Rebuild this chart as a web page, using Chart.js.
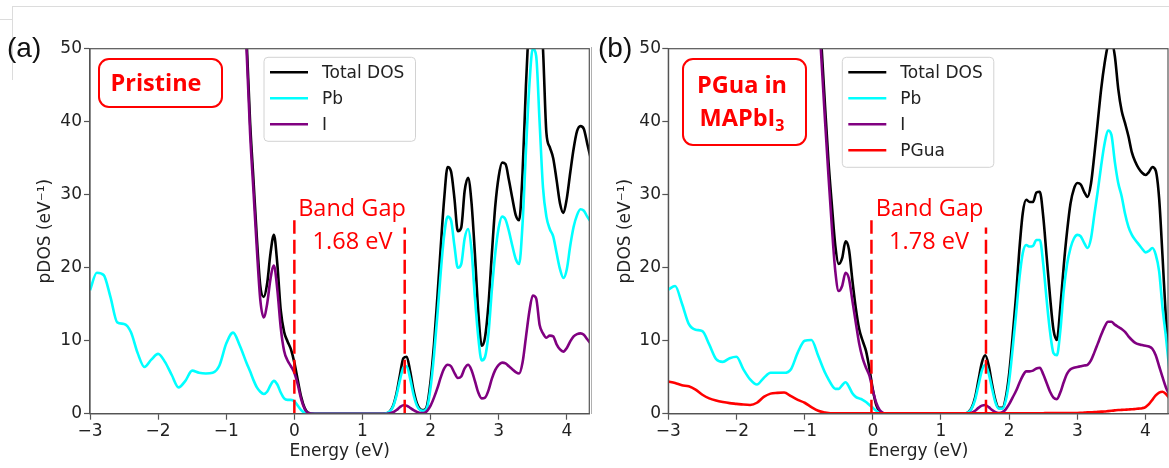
<!DOCTYPE html>
<html>
<head>
<meta charset="utf-8">
<script src="https://cdn.jsdelivr.net/npm/chart.js@4.4.1/dist/chart.umd.min.js"></script>
<style>
  html, body { margin: 0; padding: 0; background: #fff; }
  body { position: relative; width: 1169px; height: 468px; overflow: hidden; }
  canvas { position: absolute; top: 0; }
  #chartA { left: 0; }
  #chartB { left: 590px; }
  .note { position: absolute; font-family: "Open Sans", sans-serif; font-size: 23.5px; line-height: 1;
          color: #ff0000; white-space: nowrap; text-align: center; width: 200px; }
  .bold { font-weight: bold; }
  .box { position: absolute; border: 2px solid #ff0000; border-radius: 11px; box-sizing: border-box; }
  .tag { position: absolute; font-family: "Liberation Sans", Arial, sans-serif; font-size: 28px; line-height: 1; color: #111; }
  .edge { position: absolute; background: #dcdcdc; }
  sub { font-size: 16px; vertical-align: -5px; line-height: 0; }
</style>
</head>
<body>
<div class="edge" style="left:12px; top:6px; width:1157px; height:1px;"></div>
<div class="edge" style="left:0; top:19px; width:12px; height:1px;"></div>
<div class="edge" style="left:12px; top:6px; width:1px; height:74px;"></div>
<div class="edge" style="left:591px; top:47px; width:1px; height:367px; background:#b0b0b0;"></div>

<canvas id="chartA" width="592" height="468"></canvas>
<canvas id="chartB" width="579" height="468"></canvas>

<div class="tag" style="left:7px; top:34px;">(a)</div>
<div class="tag" style="left:598px; top:34px;">(b)</div>

<div class="box" style="left:98px; top:58px; width:125px; height:50px;"></div>
<div class="note bold" style="left:56px; top:70.8px;">Pristine</div>
<div class="note" style="left:252px; top:195.8px;">Band Gap</div>
<div class="note" style="left:252.5px; top:229.1px;">1.68 eV</div>

<div class="box" style="left:682px; top:58px; width:125px; height:88px;"></div>
<div class="note bold" style="left:642px; top:73.1px;">PGua in</div>
<div class="note bold" style="left:642px; top:106.4px;">MAPbI<sub>3</sub></div>
<div class="note" style="left:829.5px; top:195.8px;">Band Gap</div>
<div class="note" style="left:829px; top:229.1px;">1.78 eV</div>

<script>
// energy grid (eV), shared by both panels
const energy = [-3.0, -2.9, -2.8, -2.7, -2.6, -2.5, -2.4, -2.3, -2.2, -2.1, -2.0, -1.9, -1.8, -1.7, -1.6, -1.5, -1.4, -1.3, -1.2, -1.1, -1.0, -0.9, -0.8, -0.7,
  -0.65, -0.6, -0.55, -0.5, -0.45, -0.4, -0.35, -0.3, -0.25, -0.2, -0.15, -0.1, -0.05, 0, 0.05, 0.1, 0.15, 0.2,
  0.3, 0.4, 0.5, 0.6, 0.7, 0.8, 0.9, 1.0, 1.1, 1.2, 1.3,
  1.35, 1.4, 1.45, 1.5, 1.55, 1.6, 1.65, 1.7, 1.75, 1.8, 1.85, 1.9, 1.95, 2.0, 2.05, 2.1, 2.15, 2.2, 2.25, 2.3,
  2.35, 2.4, 2.45, 2.5, 2.55, 2.6, 2.65, 2.7, 2.75, 2.8, 2.85, 2.9, 2.95, 3.0, 3.05, 3.1, 3.15, 3.2, 3.25, 3.3,
  3.35, 3.4, 3.45, 3.5, 3.55, 3.6, 3.65, 3.7, 3.75, 3.8, 3.85, 3.9, 3.95, 4.0, 4.05, 4.1, 4.15, 4.2, 4.25, 4.3, 4.35];

// (a) Pristine
const totalA = [null, null, null, null, null, null, null, null, null, null, null, null, null, null, null, null, null, null, null, null, null, null, 68, 51,
  40, 32, 24, 17.5, 16.0, 17.8, 22, 24.5, 20.5, 14.2, 11.2, 9.9, 8.8, 7.0, 4.6, 2.3, 0.8, 0.15,
  0, 0, 0, 0, 0, 0, 0, 0, 0, 0, 0,
  0.05, 0.3, 1.1, 2.8, 5.3, 7.6, 7.8, 5.8, 3.2, 1.4, 0.6, 0.5, 1.2, 4.5, 9.5, 16, 23, 29.5, 33.8, 33.2,
  29.5, 25, 25.5, 30.5, 32.3, 29, 22, 14, 9.3, 10.5, 15, 22, 28.5, 32.5, 34.4, 34.2, 32, 29.5, 27.2, 26.5,
  33, 45, 55, 62, 62, 57, 50, 38.5, 36.5, 35, 32, 28.8, 27.5, 29.5, 33, 36.3, 38.7, 39.4, 39, 37, 35];
const pbA = [16.9, 19.3, 19.0, 16.0, 12.5, 12.3, 11.2, 8.3, 6.4, 7.4, 8.2, 7.1, 5.3, 3.6, 4.5, 5.9, 5.6, 5.5, 5.6, 6.6, 9.6, 11.1, 9.3, 6.9,
  5.8, 4.6, 3.6, 3.0, 2.7, 3.0, 3.9, 4.5, 4.0, 2.9, 2.1, 1.9, 1.9, 1.7, 1.1, 0.5, 0.15, 0.05,
  0, 0, 0, 0, 0, 0, 0, 0, 0, 0, 0,
  0.05, 0.3, 1.0, 2.5, 4.6, 6.3, 6.5, 4.8, 2.6, 1.1, 0.5, 0.4, 0.9, 3.6, 8, 13.5, 19.5, 24.5, 27, 26.5,
  23, 20, 20.5, 24, 25.3, 22.5, 16, 10.5, 7.3, 7.8, 11, 17, 22, 25.5, 27, 26.6, 25, 23, 21.2, 20.5,
  26, 36, 45, 50, 49, 40, 31, 27, 25.3, 24.3, 22, 19.8, 18.6, 19.8, 23, 25.6, 27.2, 28, 27.8, 27, 26.3];
const iA = [null, null, null, null, null, null, null, null, null, null, null, null, null, null, null, null, null, null, null, null, null, null, 67, 49.5,
  38.5, 30.5, 22.5, 15.6, 13.2, 15.0, 18.5, 20.3, 17, 11.8, 8.6, 7.3, 6.5, 5.6, 4.0, 2.0, 0.7, 0.1,
  0, 0, 0, 0, 0, 0, 0, 0, 0, 0, 0,
  0, 0.05, 0.2, 0.5, 0.9, 1.15, 1.1, 0.8, 0.5, 0.25, 0.1, 0.1, 0.4, 1.1, 2.2, 3.5, 5.0, 6.2, 6.7, 6.5,
  5.6, 4.9, 5.1, 6.2, 6.7, 6.0, 4.5, 2.9, 2.1, 2.2, 3.2, 4.8, 6.0, 6.7, 7.0, 6.9, 6.5, 6.1, 5.7, 5.5,
  7.0, 10.5, 14, 16.2, 15.8, 12.2, 11.0, 10.4, 10.7, 10.6, 9.5, 8.8, 8.5, 9.0, 9.9, 10.6, 10.9, 11.0, 10.8, 10.2, 9.6];

// (b) PGua in MAPbI3
const totalB = [null, null, null, null, null, null, null, null, null, null, null, null, null, null, null, null, null, null, null, null, null, null, 58, 42,
  34.5, 28.5, 23, 20.5, 21.3, 23.6, 22.5, 18.3, 14.5, 11.6, 10, 8.6, 6.2, 3.3, 1.2, 0.3, 0.05, 0,
  0, 0, 0, 0, 0, 0, 0, 0, 0, 0, 0,
  0.05, 0.2, 0.8, 2.2, 4.6, 7.0, 8.0, 6.6, 4.0, 1.8, 0.8, 0.8, 2.2, 5.5, 10.5, 16, 22.5, 27.5, 29.3, 29.0,
  29.0, 30.3, 30.4, 27, 21.5, 16, 11.5, 10.1, 14.5, 20.2, 25, 28.8, 30.8, 31.6, 31.4, 30.4, 29.7, 31.5, 35.5, 40,
  44.5, 48, 50.5, 51, 49, 44.5, 41.5, 39.8, 38, 35.8, 34.5, 33.6, 33.0, 32.7, 33.1, 33.8, 33.3, 29.5, 21.5, 13, 7];
const pbB = [17.0, 17.5, 15.1, 12.3, 11.5, 11.3, 9.5, 7.5, 7.1, 7.6, 7.8, 6.1, 4.7, 4.0, 4.9, 5.6, 5.6, 5.6, 6.1, 8.4, 10.0, 10.1, 7.9, 5.6,
  4.7, 3.9, 3.4, 3.4, 3.9, 4.3, 3.7, 2.8, 2.3, 2.1, 1.9, 1.6, 1.2, 0.8, 0.4, 0.15, 0.05, 0,
  0, 0, 0, 0, 0, 0, 0, 0, 0, 0, 0,
  0.05, 0.2, 0.7, 1.9, 3.9, 5.9, 6.7, 5.5, 3.4, 1.5, 0.7, 0.7, 1.8, 4.5, 8.8, 13.5, 18.5, 22, 23.1, 22.9,
  23.0, 23.8, 23.8, 20.5, 15.6, 11.2, 8.3, 8.0, 11.3, 16.8, 20.5, 22.7, 24, 24.5, 24.3, 23.4, 22.7, 24, 27.3, 30.5,
  34, 37, 38.8, 38.2, 34.5, 31.6, 29.8, 27.4, 25.6, 24.5, 23.8, 23.2, 22.6, 22.1, 22.3, 22.7, 21.8, 19.5, 14.5, 10.5, 6];
const iB = [null, null, null, null, null, null, null, null, null, null, null, null, null, null, null, null, null, null, null, null, null, null, 56, 40,
  32.5, 25.5, 19.5, 16.8, 17.5, 19.3, 18.5, 15.5, 12.5, 9.6, 7.6, 6.3, 5.2, 3.2, 1.5, 0.5, 0.1, 0,
  0, 0, 0, 0, 0, 0, 0, 0, 0, 0, 0,
  0, 0.05, 0.15, 0.4, 0.8, 1.1, 1.2, 0.9, 0.5, 0.2, 0.1, 0.2, 0.6, 1.3, 2.2, 3.1, 4.2, 5.2, 5.8, 5.8,
  5.9, 6.2, 6.3, 5.4, 4.2, 3.0, 2.2, 2.0, 2.9, 4.3, 5.5, 6.1, 6.3, 6.4, 6.5, 6.6, 6.7, 7.3, 8.4, 9.6,
  10.8, 11.9, 12.6, 12.6, 12.2, 11.9, 11.6, 11.2, 10.6, 10.1, 9.7, 9.5, 9.4, 9.3, 9.2, 8.9, 8.0, 6.5, 5.0, 3.6, 2.6];
const pguaB = [4.4, 4.2, 3.9, 3.75, 3.3, 2.6, 2.1, 1.8, 1.6, 1.45, 1.35, 1.25, 1.2, 1.5, 2.3, 2.75, 2.85, 2.9, 2.4, 1.9, 1.5, 0.9, 0.4, 0.15,
  0.08, 0.05, 0.05, 0.05, 0.05, 0.05, 0.05, 0.05, 0.05, 0.05, 0.05, 0.05, 0.05, 0.05, 0.05, 0.05, 0.05, 0.05,
  0.05, 0.05, 0.05, 0.05, 0.05, 0.05, 0.05, 0.05, 0.05, 0.05, 0.05,
  0.05, 0.05, 0.05, 0.05, 0.05, 0.05, 0.05, 0.05, 0.05, 0.05, 0.05, 0.05, 0.05, 0.05, 0.05, 0.05, 0.05, 0.05, 0.05, 0.05,
  0.05, 0.05, 0.05, 0.05, 0.1, 0.1, 0.1, 0.1, 0.1, 0.1, 0.1, 0.1, 0.1, 0.1, 0.12, 0.15, 0.18, 0.2, 0.22, 0.25,
  0.28, 0.3, 0.35, 0.4, 0.45, 0.5, 0.52, 0.55, 0.58, 0.6, 0.65, 0.7, 0.75, 0.9, 1.3, 1.9, 2.5, 2.9, 3.0, 2.7, 2.1];

// band gap markers: band edges (eV) and height of the dashed lines
const gapA = [0, 1.62];
const gapB = [-0.02, 1.66];
const gapTop = [26.5, 25.5];

const xTicks = [-3, -2, -1, 0, 1, 2, 3, 4];
const yTicks = [0, 10, 20, 30, 40, 50];

const spine = '#555';
const textColor = '#222';
const tickFont = { family: 'DejaVu Sans', size: 17 };
const lineWidth = 2.6;

function curve(label, values, color, order) {
    return {
        label: label,
        order: order,
        data: energy.map((e, k) => ({ x: e, y: values[k] })),
        borderColor: color,
        borderWidth: lineWidth,
        pointRadius: 0,
        fill: false,
        cubicInterpolationMode: 'monotone'
    };
}

function gapLine(x, top) {
    return {
        label: '',
        order: 0,
        data: [{ x: x, y: 0 }, { x: x, y: top }],
        borderColor: '#ff0000',
        borderWidth: 2.5,
        borderDash: [14, 6],
        pointRadius: 0
    };
}

function minusSign(v) {
    return v < 0 ? '\u2212' + Math.abs(v) : String(v);
}

// box around the plot + legend drawn inside the axes
const frameLegend = {
    id: 'frameLegend',
    afterDatasetsDraw(chart) {
        const ctx = chart.ctx;
        const a = chart.chartArea;
        ctx.save();
        ctx.strokeStyle = spine;
        ctx.lineWidth = 1.2;
        ctx.strokeRect(a.left, a.top, a.right - a.left, a.bottom - a.top);

        const items = chart.data.datasets.filter(d => d.label);
        const bx = a.left + 174, by = a.top + 8.6, bw = 151.5, bh = 26 * items.length + 6;
        ctx.beginPath();
        ctx.roundRect(bx, by, bw, bh, 4);
        ctx.fillStyle = 'rgba(255,255,255,0.8)';
        ctx.fill();
        ctx.strokeStyle = '#d2d2d2';
        ctx.lineWidth = 1;
        ctx.stroke();

        ctx.font = '17px "DejaVu Sans"';
        ctx.textBaseline = 'middle';
        items.forEach((d, k) => {
            const y = by + 15 + 26 * k;
            ctx.strokeStyle = d.borderColor;
            ctx.lineWidth = lineWidth;
            ctx.beginPath();
            ctx.moveTo(bx + 6, y);
            ctx.lineTo(bx + 44, y);
            ctx.stroke();
            ctx.fillStyle = textColor;
            ctx.fillText(d.label, bx + 58, y + 1);
        });
        ctx.restore();
    }
};

function makeChart(id, datasets, box) {
    return new Chart(document.getElementById(id), {
        type: 'line',
        data: { datasets: datasets },
        options: {
            responsive: false,
            animation: false,
            devicePixelRatio: 1,
            events: [],
            layout: { padding: { top: 48.7, right: box.padRight, bottom: 0, left: 0 } },
            plugins: { legend: { display: false }, tooltip: { enabled: false } },
            scales: {
                x: {
                    type: 'linear',
                    min: -3,
                    max: 4.33,
                    afterBuildTicks: s => { s.ticks = xTicks.map(v => ({ value: v })); },
                    afterFit: s => { s.height = 54.3; },
                    ticks: { color: textColor, font: tickFont, padding: 2, autoSkip: false, maxRotation: 0, callback: minusSign },
                    grid: { drawOnChartArea: false, tickLength: 6, tickWidth: 1.2, color: spine },
                    border: { color: spine, width: 1.2 },
                    title: { display: true, text: 'Energy (eV)', color: textColor, font: tickFont, padding: { top: 0, bottom: 6.3 } }
                },
                y: {
                    min: 0,
                    max: 50,
                    afterBuildTicks: s => { s.ticks = yTicks.map(v => ({ value: v })); },
                    afterFit: s => { s.width = box.axisWidth; },
                    ticks: { color: textColor, font: tickFont, padding: box.tickPad, autoSkip: false },
                    grid: { drawOnChartArea: false, tickLength: 6, tickWidth: 1.2, color: spine },
                    border: { color: spine, width: 1.2 },
                    title: { display: true, text: 'pDOS (eV\u207B\u00B9)', color: textColor, font: tickFont, padding: { top: box.titlePad, bottom: 0 } }
                }
            }
        },
        plugins: [frameLegend]
    });
}

makeChart('chartA', [
    curve('Total DOS', totalA, '#000000', 4),
    curve('Pb', pbA, '#00ffff', 3),
    curve('I', iA, '#800080', 2),
    gapLine(gapA[0], gapTop[0]),
    gapLine(gapA[1], gapTop[1])
], { padRight: 2.7, axisWidth: 90, tickPad: 2, titlePad: 35 });

makeChart('chartB', [
    curve('Total DOS', totalB, '#000000', 4),
    curve('Pb', pbB, '#00ffff', 3),
    curve('I', iB, '#800080', 2),
    curve('PGua', pguaB, '#ff0000', 1),
    gapLine(gapB[0], gapTop[0]),
    gapLine(gapB[1], gapTop[1])
], { padRight: 1, axisWidth: 78.3, tickPad: 1.3, titlePad: 25.3 });
</script>
</body>
</html>
